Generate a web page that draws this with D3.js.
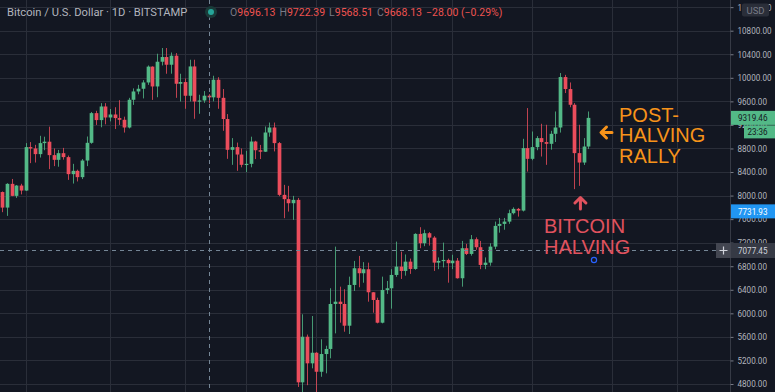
<!DOCTYPE html>
<html><head><meta charset="utf-8">
<script src="https://cdn.jsdelivr.net/npm/d3@7/dist/d3.min.js"></script>
<style>html,body{margin:0;padding:0;background:#131722;overflow:hidden}svg{display:block}</style>
</head><body><svg id="chart" width="775" height="392"></svg>
<script>
// ---- data (BTC/USD daily, Bitstamp) ----
const firstDay = "2020-01-09";
const lastDay = "2020-05-13";
const opens = [8060,7796,8199,7995,8170,8085,8823,8800,8704,8891,8915,8687,8607,8720,8653,8364,8420,8313,8595,8896,9400,9282,9513,9326,9377,9316,9287,9156,9627,9768,9814,9921,10190,9853,10273,10353,10222,10375,9899,9928,9695,10193,9598,9615,9696.13,9668,9967,9660,9300,8777,8823,8697,8522,8539,8918,8770,8745,9071,9156,8891,8012,7939,7870,7927,4828,5603,5151,5331,5008,5309,5395,6159,6198,6159,5790,6482,6766,6681,6749,6358,6227,5841,6397,6426,6652,6793,6720,6878,6754,7349,7191,7361,7286,6861,6890,6907,6851,6895,6596,7106,7009,7259,7123,6822,6861,7133,7485,7519,7558,7701,7774,7745,8806,8624,8823,8976,8908,8879,9049,9156,10013,9809,9542,8721,8561,8833];
const highs = [8070,8210,8282,8180,8200,8891,8908,8862,9015,9000,9170,8800,8775,8810,8680,8539,8440,8620,9003,9420,9440,9570,9570,9470,9500,9620,9340,9660,9820,9880,9960,10210,10195,10409,10506,10506,10430,10420,10069,9990,10307,10307,9712,9775,9722.39,10035,10010,9810,9384,8976,8900,8800,8760,9000,8930,8860,9173,9240,9240,8910,8182,8165,7995,7960,5984,5640,5955,5340,5559,5450,6426,7133,6453,6409,6623,6890,6975,6870,6861,6360,6266,6623,6550,6750,7218,7048,7000,6930,7360,7463,7420,7380,7310,6950,7201,6930,6995,6940,7230,7180,7330,7290,7230,6950,7190,7558,7620,7620,7760,7800,7790,8964,9486,9088,9010,9219,9202,9100,9428,10081,10050,9921,9570,9202,8976,9428];
const lows = [7718,7655,7990,7960,8020,8080,8551,8561,8646,8770,8449,8500,8490,8610,8267,8204,8240,8280,8500,8880,9200,9160,9210,9260,9130,9200,9070,9140,9540,9720,9650,9880,9625,9670,10210,10069,10070,9660,9598,9474,9598,9304,9389,9575,9568.51,9600,9474,9100,8624,8522,8420,8480,8398,8480,8620,8620,8740,9000,8750,7990,7616,7728,7587,4750,3850,4780,5066,4450,4923,4981,5236,5660,5841,5688,5649,6380,6443,6520,6198,6011,5830,5830,6330,6080,6620,6584,6640,6670,6740,7106,7140,7150,6720,6750,6780,6521,6750,6590,6453,6990,6980,7080,6750,6750,6810,7090,7370,7420,7520,7680,7643,7730,8408,8600,8770,8663,8522,8780,8910,9070,9741,9500,8109,8165,8520,8790];
const closes = [7796,8199,7995,8170,8085,8823,8800,8704,8891,8915,8687,8607,8720,8653,8364,8420,8313,8595,8896,9400,9282,9513,9326,9377,9316,9287,9156,9627,9768,9814,9921,10190,9853,10273,10353,10222,10375,9899,9928,9695,10193,9598,9615,9696,9668.13,9967,9660,9300,8777,8823,8697,8522,8539,8918,8770,8745,9071,9156,8891,8012,7939,7870,7927,4828,5603,5151,5331,5008,5309,5395,6159,6198,6159,5790,6482,6766,6681,6749,6358,6227,5841,6397,6426,6652,6793,6720,6878,6754,7349,7191,7361,7286,6861,6890,6907,6851,6895,6596,7106,7009,7259,7123,6822,6861,7133,7485,7519,7558,7701,7774,7745,8806,8624,8823,8976,8908,8879,9049,9156,10013,9809,9542,8721,8561,8833,9319.46];
const priceTicks = [11200,10800,10400,10000,9600,9200,8800,8400,8000,7600,7200,6800,6400,6000,5600,5200,4800];
const gridDates = ["2020-01-14","2020-02-01","2020-02-17","2020-03-01","2020-03-16","2020-04-01","2020-04-14","2020-05-01","2020-05-18","2020-06-01"];
const crosshairDate = "2020-02-22";
const crosshairPrice = 7077.45;
const lastPrice = 9319.46;
const countdown = "23:36";
const alertPrice = 7731.93;
const eventDate = "2020-05-14";
const headerTitle = "Bitcoin / U.S. Dollar · 1D · BITSTAMP";
const headerOHLC = [["O","9696.13"],["H","9722.39"],["L","9568.51"],["C","9668.13"]];
const headerChange = "−28.00 (−0.29%)";
const rallyLines = ["POST-","HALVING","RALLY"];
const halvingLines = ["BITCOIN","HALVING"];
const halvingDate = "2020-05-11";

// ---- drawing ----
const W = 775, H = 392, axisX = 730;
const UP = "#53b987", DOWN = "#eb4d5c", GRID = "#2a2e39", TXT = "#b2b5be";
const parse = d3.utcParse("%Y-%m-%d");
const days = d3.utcDay.range(parse(firstDay), d3.utcDay.offset(parse(lastDay), 1));
const data = days.map((d, i) => ({date: d, o: opens[i], h: highs[i], l: lows[i], c: closes[i]}));

const x = d3.scaleUtc().domain([parse(firstDay), parse(lastDay)]).range([2.2, 588.3]);
const y = d3.scaleLinear().domain([4800, 10800]).range([384, 30.7]);

const svg = d3.select("#chart");
svg.append("rect").attr("width", W).attr("height", H).attr("fill", "#131722");
svg.append("defs").append("clipPath").attr("id", "plot")
  .append("rect").attr("x", 0).attr("y", 0).attr("width", axisX).attr("height", H);

const plot = svg.append("g").attr("clip-path", "url(#plot)");
// gridlines
plot.selectAll("line.hg").data(priceTicks).join("line")
  .attr("x1", 0).attr("x2", axisX)
  .attr("y1", d => Math.round(y(d)) + 0.5).attr("y2", d => Math.round(y(d)) + 0.5)
  .attr("stroke", GRID).attr("stroke-width", 1);
plot.selectAll("line.vg").data(gridDates).join("line")
  .attr("y1", 0).attr("y2", H)
  .attr("x1", d => Math.round(x(parse(d))) + 0.5).attr("x2", d => Math.round(x(parse(d))) + 0.5)
  .attr("stroke", GRID).attr("stroke-width", 1);

// candles
const bw = 3.7;
const cg = plot.append("g");
const candle = cg.selectAll("g").data(data).join("g");
candle.append("line")
  .attr("x1", d => Math.round(x(d.date)) + 0.5).attr("x2", d => Math.round(x(d.date)) + 0.5)
  .attr("y1", d => y(d.h)).attr("y2", d => y(d.l))
  .attr("stroke", d => d.c >= d.o ? UP : DOWN).attr("stroke-width", 1).attr("stroke-opacity", 0.8);
candle.append("rect")
  .attr("x", d => Math.round(x(d.date)) + 0.5 - bw / 2)
  .attr("width", bw)
  .attr("y", d => y(Math.max(d.o, d.c)))
  .attr("height", d => Math.max(1.2, Math.abs(y(d.o) - y(d.c))))
  .attr("fill", d => d.c >= d.o ? UP : DOWN);

// crosshair
const cx = Math.round(x(parse(crosshairDate))) + 0.5;
const cy = Math.round(y(crosshairPrice)) + 0.5;
svg.append("line").attr("x1", cx).attr("x2", cx).attr("y1", 0).attr("y2", H)
  .attr("stroke", "#758696").attr("stroke-dasharray", "4,4").attr("stroke-width", 1);
plot.append("line").attr("x1", 0).attr("x2", axisX).attr("y1", cy).attr("y2", cy)
  .attr("stroke", "#758696").attr("stroke-dasharray", "4,4").attr("stroke-width", 1);

// event marker
svg.append("circle").attr("cx", x(parse(eventDate)) + 1).attr("cy", 260).attr("r", 2.6)
  .attr("fill", "none").attr("stroke", "#2962ff").attr("stroke-width", 1.2);

// annotations
const hx = x(parse(halvingDate));
const ra = svg.append("g").attr("fill", "#f7931a").attr("font-family", "'Liberation Sans', Arial, sans-serif").attr("font-size", 20);
ra.selectAll("text").data(rallyLines).join("text")
  .attr("x", 619).attr("y", (d, i) => 122 + i * 20.3).text(d => d);
svg.append("path")
  .attr("d", `M612,132.5 L601.5,132.5 M606.5,127 L601,132.5 L606.5,138`)
  .attr("fill", "none").attr("stroke", "#f7931a").attr("stroke-width", 3).attr("stroke-linecap", "round").attr("stroke-linejoin", "round");
const ha = svg.append("g").attr("fill", "#e0525e").attr("font-family", "'Liberation Sans', Arial, sans-serif").attr("font-size", 20);
ha.selectAll("text").data(halvingLines).join("text")
  .attr("x", 544).attr("y", (d, i) => 233 + i * 20.5).text(d => d);
svg.append("path")
  .attr("d", `M${hx + 1.5},209 L${hx + 1.5},198 M${hx - 4},203 L${hx + 1.5},197.5 L${hx + 7},203`)
  .attr("fill", "none").attr("stroke", "#e0525e").attr("stroke-width", 3).attr("stroke-linecap", "round").attr("stroke-linejoin", "round");

// price axis
svg.append("rect").attr("x", axisX + 0.5).attr("y", 0).attr("width", W - axisX).attr("height", H).attr("fill", "#131722");
const fmt = d3.format(".2f");
const axis = svg.append("g").attr("transform", `translate(${axisX + 0.5},0)`)
  .call(d3.axisRight(y).tickValues(priceTicks).tickFormat(fmt).tickSize(3).tickPadding(4));
axis.select(".domain").attr("stroke", "#363a45").attr("d", `M0,0V${H}`);
axis.selectAll(".tick line").attr("stroke", "#787b86");
axis.selectAll(".tick text").attr("fill", TXT).attr("font-family", "Roboto, sans-serif").attr("font-size", 8.9)
  .attr("textLength", d => fmt(d).length >= 8 ? 34 : 29.5).attr("lengthAdjust", "spacingAndGlyphs");

// USD badge
svg.append("rect").attr("x", 742).attr("y", 3.5).attr("width", 27).attr("height", 13).attr("rx", 2).attr("fill", "#2a2e39");
svg.append("text").attr("x", 755.5).attr("y", 13.5).attr("text-anchor", "middle").attr("fill", "#787b86")
  .attr("font-family", "Roboto, sans-serif").attr("font-size", 9.5).text("USD");

// price tags
function tag(bg, fg, text, x0, yc, h, tx, tl) {
  svg.append("rect").attr("x", x0).attr("y", yc - h / 2).attr("width", W - x0).attr("height", h).attr("fill", bg);
  svg.append("text").attr("x", tx).attr("y", yc + 3.5)
    .attr("fill", fg).attr("font-family", "Roboto, sans-serif").attr("font-size", 9.6)
    .attr("textLength", tl).attr("lengthAdjust", "spacingAndGlyphs").text(text);
}
const ly = y(lastPrice);
tag(UP, "#131722", fmt(lastPrice), 731, ly, 14, 738, 29.5);
tag(UP, "#131722", countdown, 744, ly + 14, 13, 747.5, 20);
tag("#2196f3", "#ffffff", fmt(alertPrice), 731, y(alertPrice), 14, 738, 29.5);
tag("#363a45", "#d1d4dc", fmt(crosshairPrice), 731, cy, 15, 738, 29.5);
svg.append("rect").attr("x", 716).attr("y", cy - 7.5).attr("width", 15).attr("height", 15).attr("fill", "#434651");
svg.append("path").attr("d", `M719.5,${cy}H727.5M723.5,${cy - 4}V${cy + 4}`).attr("stroke", "#d1d4dc").attr("stroke-width", 1.2);

// header
svg.append("text").attr("x", 7).attr("y", 16).attr("fill", "#b2b5be")
  .attr("font-family", "Roboto, sans-serif").attr("font-size", 11.2).text(headerTitle);
svg.append("circle").attr("cx", 211).attr("cy", 12).attr("r", 6).attr("fill", "#1a3b39");
svg.append("circle").attr("cx", 211).attr("cy", 12).attr("r", 3).attr("fill", "#26a69a");
const ht = svg.append("text").attr("x", 230).attr("y", 16).attr("font-family", "Roboto, sans-serif").attr("font-size", 10.5);
headerOHLC.forEach(([k, v], i) => {
  ht.append("tspan").attr("fill", "#787b86").attr("dx", i ? 4 : 0).text(k);
  ht.append("tspan").attr("fill", "#ef5350").text(v);
});
ht.append("tspan").attr("fill", "#ef5350").attr("dx", 4).text(headerChange);
</script></body></html>
